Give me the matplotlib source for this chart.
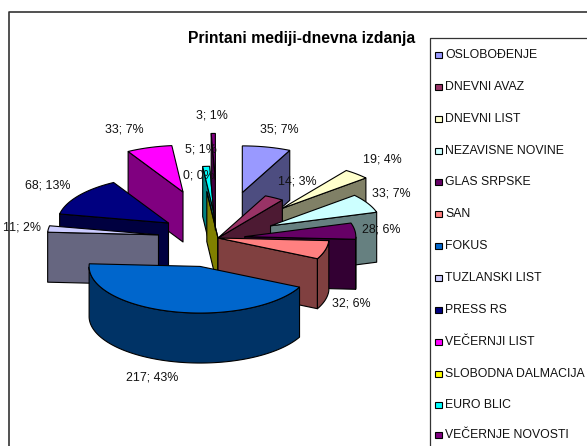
"""Printani mediji - exploded 3D pie, projected by hand onto a pixel-sized axes."""
import numpy as np
import matplotlib
matplotlib.use("Agg")
import matplotlib.pyplot as plt
from matplotlib.colors import to_rgb
from matplotlib.patches import Polygon, Rectangle

names = ["OSLOBOĐENJE", "DNEVNI AVAZ", "DNEVNI LIST", "NEZAVISNE NOVINE", "GLAS SRPSKE", "SAN", "FOKUS",
         "TUZLANSKI LIST", "PRESS RS", "VEČERNJI LIST", "SLOBODNA DALMACIJA", "EURO BLIC", "VEČERNJE NOVOSTI"]
values = [35, 14, 19, 33, 28, 32, 217, 11, 68, 33, 0, 5, 3]
percents = [7, 3, 4, 7, 6, 6, 43, 2, 13, 7, 0, 1, 1]

colors = ["#9999FF", "#993366", "#FFFFCC", "#CCFFFF", "#660066", "#FF8080", "#0066CC",
          "#CCCCFF", "#000080", "#FF00FF", "#FFFF00", "#00FFFF", "#800080"]
explode = [111, 0, 95, 60, 27, 0, 70, 60, 61, 115, 0, 60, 138]
draw_order = [0, 11, 10, 12, 9, 2, 1, 8, 3, 7, 4, 5, 6]
top_lift = {11: 4}  # vrh EURO BLIC ide preko bocne strane SLOBODNE
label_xy = [(279, 130), (297, 182), (382, 159), (391, 194), (381, 229), (351, 303), (152, 378),
            (22, 227), (48, 185), (124, 130), (199, 176), (201, 150), (212, 115)]

CX, CY, R, SQUASH, DEPTH = 218, 238, 111, 0.42, 50

plt.rcParams["font.family"] = ["Liberation Sans"]
fig = plt.figure(figsize=(5.87, 4.46), dpi=100)
ax = fig.add_axes([0, 0, 1, 1])
ax.set_xlim(0, 587); ax.set_ylim(446, 0); ax.axis("off")


def proj(a, r, ox, oy):
    rad = np.radians(a)
    return np.column_stack([ox + r * np.sin(rad), oy - r * np.cos(rad) * SQUASH])


def side(pts, col, z):
    low = pts[::-1] + [0, DEPTH]
    ax.add_patch(Polygon(np.vstack([pts, low]), fc=col, ec="black", lw=0.8, zorder=z, joinstyle="round"))


edges = np.cumsum([0] + values) / sum(values) * 360
for z, i in enumerate(draw_order):
    a1, a2 = edges[i], edges[i + 1]
    mid = (a1 + a2) / 2
    ox, oy = proj(mid, explode[i], CX, CY)[0]
    apex = np.array([[ox, oy]])
    arc_a = np.linspace(a1, a2, max(2, int(a2 - a1) + 2))
    arc = proj(arc_a, R, ox, oy)
    dark = tuple(c * 0.5 for c in to_rgb(colors[i]))
    base = z * 3 + 2
    if np.sin(np.radians(a1)) < 0:
        side(np.vstack([apex, arc[:1]]), dark, base)
    if np.sin(np.radians(a2)) > 0:
        side(np.vstack([arc[-1:], apex]), dark, base)
    front = (arc_a >= 90) & (arc_a <= 270)
    if front.sum() > 1:
        side(arc[front], dark, base)
    ax.add_patch(Polygon(np.vstack([apex, arc]), fc=colors[i], ec="black", lw=0.8,
                         zorder=base + 1 + top_lift.get(i, 0)))

for xy, v, p in zip(label_xy, values, percents):
    ax.text(xy[0], xy[1], f"{v}; {p}%", ha="center", va="center", fontsize=8.9, color="#111111", zorder=100)

ax.text(302, 38, "Printani mediji-dnevna izdanja", ha="center", va="center", fontsize=11.3,
        fontweight="bold", zorder=100)

# okviri
ax.plot([8.5, 8.5, 587], [446, 11.5, 11.5], color="#333333", lw=1.2, zorder=101)
ax.plot([429.5, 429.5, 587], [446, 37.5, 37.5], color="#333333", lw=0.9, zorder=101)

legend_y = [55, 87, 119, 151, 182, 214, 246, 278, 310, 342, 374, 405, 435]
for y, name, col in zip(legend_y, names, colors):
    ax.add_patch(Rectangle((435, y - 3.5), 6.5, 6.5, fc=col, ec="black", lw=0.8, zorder=102))
    ax.text(445, y, name, ha="left", va="center", fontsize=8.8, color="#111111", zorder=102)

fig.savefig("out.png", dpi=100)
